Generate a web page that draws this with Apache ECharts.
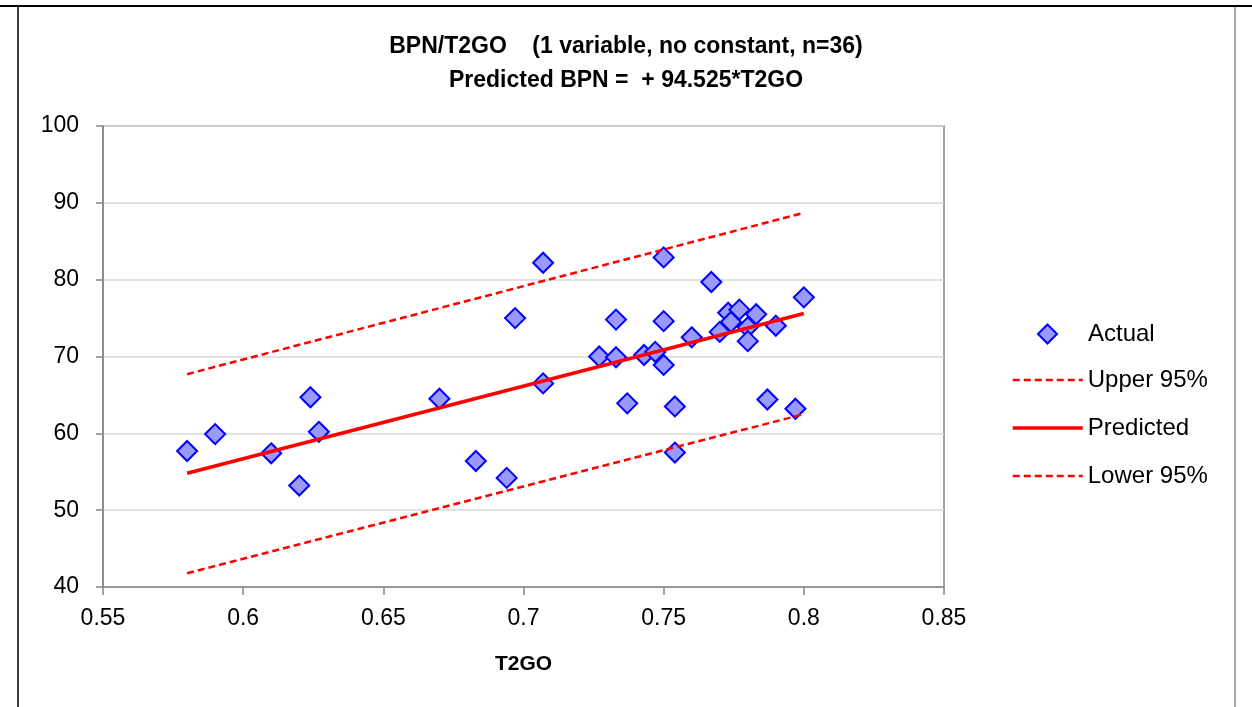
<!DOCTYPE html>
<html>
<head>
<meta charset="utf-8">
<script src="https://cdn.jsdelivr.net/npm/echarts@6/dist/echarts.min.js"></script>
<style>
  html, body { margin: 0; padding: 0; background: #fff; }
  #chart { width: 1252px; height: 707px; }
</style>
</head>
<body>
<div id="chart"></div>
<script>
// values
var t2go = [0.580, 0.590, 0.610, 0.620, 0.624, 0.627, 0.670, 0.683, 0.694, 0.697,
            0.707, 0.707, 0.727, 0.733, 0.733, 0.737, 0.743, 0.747, 0.750, 0.750,
            0.750, 0.754, 0.754, 0.760, 0.767, 0.770, 0.773, 0.774, 0.777, 0.780,
            0.780, 0.783, 0.787, 0.790, 0.797, 0.800];
var bpn = [57.7, 59.9, 57.4, 53.2, 64.7, 60.2, 64.5, 56.4, 54.2, 75.0,
           82.2, 66.5, 70.0, 74.8, 69.9, 63.9, 70.2, 70.6, 82.9, 74.6,
           68.9, 63.5, 57.5, 72.5, 79.7, 73.2, 75.7, 74.5, 76.1, 73.8,
           72.0, 75.5, 64.4, 74.0, 63.2, 77.7];

var lineX = [0.58, 0.80];
var predicted = [54.8, 75.6];
var upper95 = [67.7, 88.7];
var lower95 = [41.8, 62.5];

var titleText = 'BPN/T2GO    (1 variable, no constant, n=36)\nPredicted BPN =  + 94.525*T2GO';
var xName = 'T2GO';

function pairs(xs, ys) {
  return xs.map(function (x, i) { return [x, ys[i]]; });
}

var chart = echarts.init(document.getElementById('chart'));
var font = 'Liberation Sans';
var legendText = { fontFamily: font, fontSize: 24, lineHeight: 24, color: '#000' };

// line series: hide the legend dot, keep the line
var redLine = function (name, ys, width, dash) {
  return {
    name: name,
    type: 'line',
    symbol: 'none',
    lineStyle: { color: '#ff0000', width: width, type: dash || 'solid' },
    itemStyle: { color: '#ff0000', opacity: 0 },
    data: pairs(lineX, ys),
    z: 4
  };
};

chart.setOption({
  animation: false,
  backgroundColor: '#fff',
  title: {
    text: titleText,
    left: 'center',
    top: 25,
    textStyle: {
      fontFamily: font,
      fontWeight: 'bold',
      fontSize: 23,
      lineHeight: 34,
      color: '#000'
    }
  },
  legend: [
    {
      // diamond kept square, text pushed to line up with the others
      orient: 'vertical',
      left: 1032,
      top: 317,
      itemWidth: 19,
      itemHeight: 19,
      textStyle: Object.assign({ padding: [0, 0, 0, 26] }, legendText),
      data: ['Actual']
    },
    {
      orient: 'vertical',
      left: 1006,
      top: 363,
      itemWidth: 70,
      itemHeight: 18,
      itemGap: 24,
      textStyle: legendText,
      data: [
        { name: 'Upper 95%', lineStyle: { width: 2.5 } },
        { name: 'Predicted', lineStyle: { width: 3.5 } },
        { name: 'Lower 95%', lineStyle: { width: 2.5 } }
      ]
    }
  ],
  graphic: [
    { type: 'line', shape: { x1: 0, y1: 6, x2: 1252, y2: 6 }, style: { stroke: '#000', lineWidth: 2 } },
    { type: 'line', shape: { x1: 18, y1: 6, x2: 18, y2: 707 }, style: { stroke: '#000', lineWidth: 1.5 } },
    { type: 'line', shape: { x1: 1235, y1: 7, x2: 1235, y2: 707 }, style: { stroke: '#888', lineWidth: 1.5 } }
  ],
  grid: {
    left: 103,
    top: 126,
    right: 308,
    bottom: 120,
    show: true,
    borderColor: '#868686',
    borderWidth: 1.5
  },
  xAxis: {
    type: 'value',
    min: 0.55,
    max: 0.85,
    interval: 0.05,
    name: xName,
    nameLocation: 'middle',
    nameGap: 67,
    nameTextStyle: { fontFamily: font, fontWeight: 'bold', fontSize: 21, color: '#000' },
    axisLine: { lineStyle: { color: '#868686', width: 1.5 } },
    axisTick: { show: true, length: 8, lineStyle: { color: '#868686', width: 1.5 } },
    axisLabel: { fontFamily: font, fontSize: 23, color: '#000', margin: 20 },
    splitLine: { show: false }
  },
  yAxis: {
    type: 'value',
    min: 40,
    max: 100,
    interval: 10,
    axisLine: { show: true, lineStyle: { color: '#868686', width: 1.5 } },
    axisTick: { show: true, length: 7, lineStyle: { color: '#868686', width: 1.5 } },
    axisLabel: { fontFamily: font, fontSize: 23, color: '#000', margin: 24 },
    splitLine: { show: true, lineStyle: { color: '#d9d9d9', width: 1.5 } }
  },
  series: [
    {
      name: 'Actual',
      type: 'scatter',
      symbol: 'diamond',
      symbolSize: 20,
      itemStyle: { color: '#9999ff', borderColor: '#0000ff', borderWidth: 2, opacity: 1 },
      data: pairs(t2go, bpn),
      z: 3
    },
    redLine('Upper 95%', upper95, 2.5, [7, 4]),
    redLine('Predicted', predicted, 3.5),
    redLine('Lower 95%', lower95, 2.5, [7, 4])
  ]
});
</script>
</body>
</html>
